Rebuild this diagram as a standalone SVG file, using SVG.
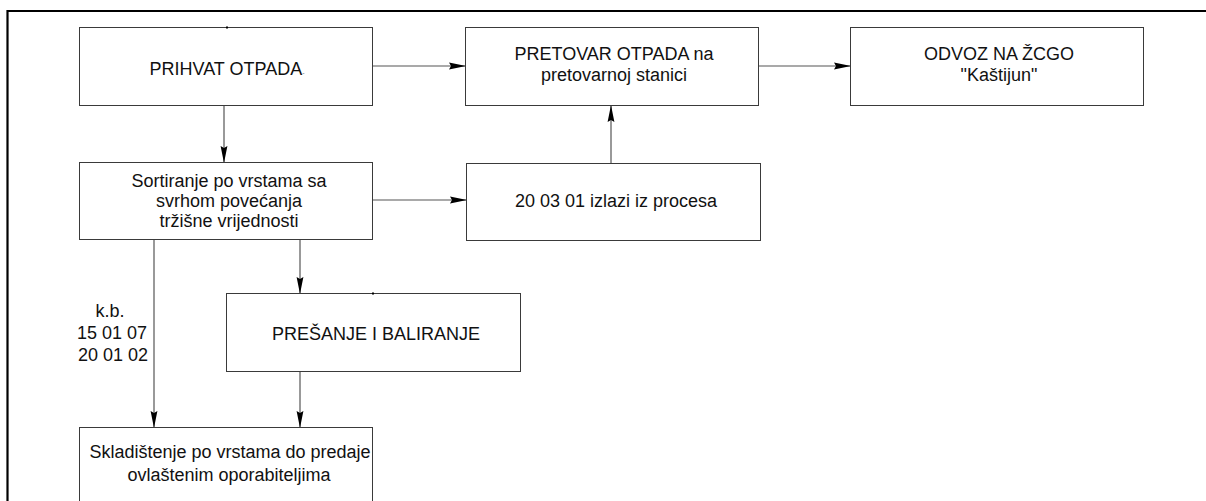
<svg xmlns="http://www.w3.org/2000/svg" width="1206" height="501" viewBox="0 0 1206 501">
<style>
.box{fill:#fff;stroke:#3a3a3a;stroke-width:1}
.t{font-family:"Liberation Sans",Arial,sans-serif;font-size:18px;fill:#111;text-anchor:middle}
.c{fill:none;stroke:#555;stroke-width:1.2}
.frame{stroke:#000;stroke-width:2.2;fill:none}
</style>
<defs>
<marker id="ah" markerUnits="userSpaceOnUse" markerWidth="18" markerHeight="8" refX="17" refY="4" orient="auto">
<path d="M0,0.6 L17,4 L0,7.4 L2,4 Z" fill="#000"/>
</marker>
</defs>
<rect width="1206" height="501" fill="#fff"/>
<g id="frame">
<path class="frame" d="M7.5,501 V11 H1206"/>
</g>
<g id="connectors">
<path class="c" d="M373,66 H466" marker-end="url(#ah)"/>
<path class="c" d="M758,66 H851" marker-end="url(#ah)"/>
<path class="c" d="M224,106 V163" marker-end="url(#ah)"/>
<path class="c" d="M373,200 H467" marker-end="url(#ah)"/>
<path class="c" d="M611,163 V105" marker-end="url(#ah)"/>
<path class="c" d="M154,239 V428" marker-end="url(#ah)"/>
<path class="c" d="M300,239 V294" marker-end="url(#ah)"/>
<path class="c" d="M300,372 V428" marker-end="url(#ah)"/>
</g>
<g id="prihvat">
<rect class="box" x="79.5" y="27.5" width="293" height="78"/>
<rect x="226" y="26.5" width="2" height="2" fill="#000"/>
<text class="t" x="227" y="75">PRIHVAT OTPADA<tspan font-size="7" fill="#777">-</tspan></text>
</g>
<g id="pretovar">
<rect class="box" x="465.5" y="27.5" width="293" height="78"/>
<text class="t" x="614" y="60">PRETOVAR OTPADA na</text>
<text class="t" x="614" y="81">pretovarnoj stanici</text>
</g>
<g id="odvoz">
<rect class="box" x="850.5" y="27.5" width="293" height="78"/>
<text class="t" x="999" y="60">ODVOZ NA ŽCGO</text>
<text class="t" x="999" y="81">"Kaštijun"</text>
</g>
<g id="sortiranje">
<rect class="box" x="79.5" y="162.5" width="293" height="77"/>
<text class="t" x="229" y="187">Sortiranje po vrstama sa</text>
<text class="t" x="229" y="207">svrhom povećanja</text>
<text class="t" x="229" y="227">tržišne vrijednosti</text>
</g>
<g id="izlazi">
<rect class="box" x="466.5" y="163.5" width="294" height="77"/>
<text class="t" x="616" y="207">20 03 01 izlazi iz procesa</text>
</g>
<g id="presanje">
<rect class="box" x="226.5" y="293.5" width="294" height="78"/>
<rect x="372" y="292.5" width="2" height="2" fill="#000"/>
<text class="t" x="376" y="340">PREŠANJE I BALIRANJE</text>
</g>
<g id="label-kb">
<text class="t" x="110" y="317">k.b.</text>
<text class="t" x="112" y="339">15 01 07</text>
<text class="t" x="113" y="361">20 01 02</text>
</g>
<g id="skladistenje">
<rect class="box" x="79.5" y="427.5" width="293" height="80"/>
<text class="t" x="230" y="458">Skladištenje po vrstama do predaje</text>
<text class="t" x="229" y="481">ovlaštenim oporabiteljima</text>
</g>
</svg>
